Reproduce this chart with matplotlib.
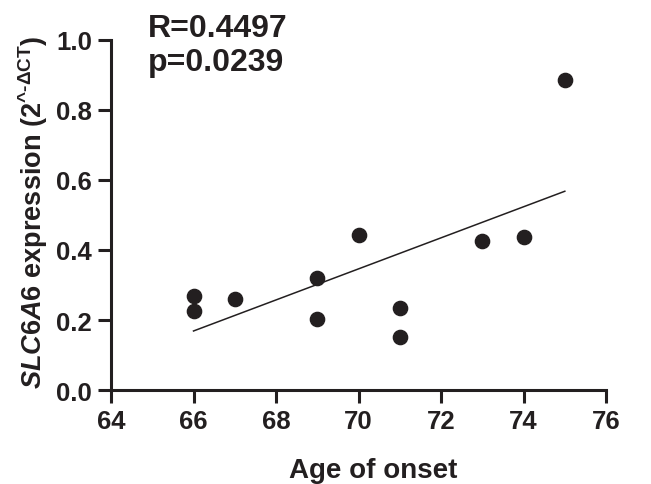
import numpy as np
import matplotlib
matplotlib.use('Agg')
import matplotlib.pyplot as plt
from matplotlib.mathtext import MathTextParser

plt.rcParams['font.family'] = 'Liberation Sans'
plt.rcParams['font.weight'] = 'bold'
plt.rcParams['mathtext.fontset'] = 'custom'
plt.rcParams['mathtext.rm'] = 'Liberation Sans:bold'
plt.rcParams['mathtext.bf'] = 'Liberation Sans:bold'
plt.rcParams['mathtext.it'] = 'Liberation Sans:bold:italic'

# data
age = [66, 66, 67, 69, 69, 70, 71, 71, 73, 74, 75]
expr = [0.268, 0.225, 0.260, 0.319, 0.203, 0.444, 0.233, 0.152, 0.425, 0.436, 0.886]
r_text = 'R=0.4497'
p_text = 'p=0.0239'
ink = '#231f20'

# superscript "^-ΔCT": pick what mathtext can parse (hyphen, not minus)
sup = 'ˆ\u2010\\Delta CT'
for c in [r'\textasciicircum\text{-}\Delta CT', r'\^{}\text{-}\Delta CT']:
    try:
        MathTextParser('agg').parse('$^{' + c + '}$', dpi=100)
        sup = c
        break
    except Exception:
        pass
ylab = r'$\mathit{SLC6A6}$ expression (2$^{\mathrm{' + sup + r'}}$)'

fig = plt.figure(figsize=(6.51, 4.85), dpi=100)
ax = fig.add_axes([0.1705, 0.1938, 0.7605, 0.7217])

ax.scatter(age, expr, s=105, color=ink, zorder=3, clip_on=False)

# linear fit over the data range
slope, icpt = np.polyfit(age, expr, 1)
xs = np.array([min(age), max(age)])
ax.plot(xs, slope * xs + icpt, color=ink, lw=1.1)

ax.set_xlim(64, 76)
ax.set_ylim(0, 1.0)
ax.set_xticks(np.arange(64, 77, 2))
ax.set_yticks(np.arange(0, 1.01, 0.2))
ax.set_yticklabels([f'{v:.1f}' for v in np.arange(0, 1.01, 0.2)])

for s in ['top', 'right']:
    ax.spines[s].set_visible(False)
for s in ['left', 'bottom']:
    ax.spines[s].set_linewidth(2.2)
    ax.spines[s].set_color(ink)
ax.tick_params(width=2.2, length=9.5, color=ink, labelsize=18.5, labelcolor=ink)
ax.tick_params(axis='x', pad=4.5)
ax.tick_params(axis='y', pad=4)

fig.text(0.573, 7 / 485, 'Age of onset', fontsize=20, fontweight='bold',
         color=ink, ha='center', va='baseline')
fig.text(42 / 651, 1 - 212 / 485, ylab, fontsize=19.5, fontweight='bold', color=ink,
         rotation=90, rotation_mode='anchor', ha='center', va='baseline')

fig.text(0.227, 1 - 37 / 485, r_text, fontsize=23, fontweight='bold', color=ink, va='baseline')
fig.text(0.227, 1 - 71 / 485, p_text, fontsize=23, fontweight='bold', color=ink, va='baseline')

fig.savefig('out.png', dpi=100)
